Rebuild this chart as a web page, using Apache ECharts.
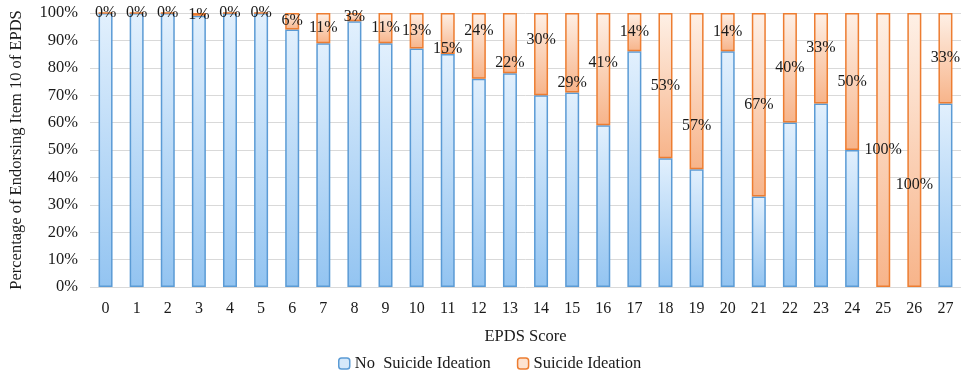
<!DOCTYPE html>
<html><head><meta charset="utf-8">
<script src="https://cdn.jsdelivr.net/npm/echarts@6/dist/echarts.min.js"></script>
<style>html,body{margin:0;padding:0;background:#fff}#c{width:966px;height:380px}</style>
</head><body><div id="c"></div>
<script>
var categories = ['0','1','2','3','4','5','6','7','8','9','10','11','12','13','14','15','16','17','18','19','20','21','22','23','24','25','26','27'];
var noIdeation = [100,100,100,99,100,100,94,89,97,89,87,85,76,78,70,71,59,86,47,43,86,33,60,67,50,0,0,67];
var ideation   = [0,0,0,1,0,0,6,11,3,11,13,15,24,22,30,29,41,14,53,57,14,67,40,33,50,100,100,33];
var yTicks = ['0%','10%','20%','30%','40%','50%','60%','70%','80%','90%','100%'];

// manual label nudges (vertical, px) as in the reference
var labelNudge = {11:15, 12:-15, 13:20, 14:-14, 15:30, 16:-6, 19:35, 23:-10, 26:35};

var FONT = '"Liberation Serif","Times New Roman",serif';
var TXT = '#1a1a1a';
var chart = echarts.init(document.getElementById('c'));

function grad(top, bottom){
  return new echarts.graphic.LinearGradient(0,0,0,1,[{offset:0,color:top},{offset:1,color:bottom}]);
}

var ideationData = ideation.map(function(v,i){
  var d = {value:v};
  if (labelNudge[i] !== undefined) d.label = {offset:[0,labelNudge[i]]};
  return d;
});
var noData = noIdeation.map(function(v){ return v === 0 ? '-' : v; });

chart.setOption({
  animation:false,
  textStyle:{fontFamily:FONT},
  grid:{left:89, right:5, top:13, bottom:93},
  legend:{
    bottom:3, left:333, itemWidth:11, itemHeight:11, itemGap:26,
    textStyle:{fontFamily:FONT, fontSize:16.5, color:TXT},
    data:[
      {name:'No  Suicide Ideation', itemStyle:{color:'#d5e8fa', borderColor:'#5b9bd5', borderWidth:1.5}},
      {name:'Suicide Ideation', itemStyle:{color:'#fde3d0', borderColor:'#ed7d31', borderWidth:1.5}}
    ]
  },
  xAxis:{
    type:'category', data:categories,
    name:'EPDS Score', nameLocation:'middle', nameGap:41,
    nameTextStyle:{fontFamily:FONT, fontSize:16.5, color:TXT},
    axisLine:{show:false}, axisTick:{show:false},
    axisLabel:{fontFamily:FONT, fontSize:16, color:TXT, margin:14}
  },
  yAxis:{
    type:'value', min:0, max:100, interval:10,
    name:'Percentage of Endorsing Item 10 of EPDS', nameLocation:'middle', nameGap:65,
    nameTextStyle:{fontFamily:FONT, fontSize:16.5, color:TXT},
    axisLine:{show:false}, axisTick:{show:false},
    splitLine:{lineStyle:{color:'#d9d9d9', width:1}},
    axisLabel:{fontFamily:FONT, fontSize:16.5, color:TXT, margin:12,
      formatter:function(v){ return yTicks[Math.round(v/10)]; }}
  },
  series:[
    {
      name:'No  Suicide Ideation', type:'bar', stack:'s', barWidth:'45%',
      data:noData,
      itemStyle:{color:grad('#e2f0fd','#93c4f1'), borderColor:'#5b9bd5', borderWidth:1.5}
    },
    {
      name:'Suicide Ideation', type:'bar', stack:'s', barWidth:'45%',
      data:ideationData,
      itemStyle:{color:grad('#fef0e6','#f7b48a'), borderColor:'#ed7d31', borderWidth:1.5},
      label:{show:true, position:'inside', formatter:'{c}%',
        fontFamily:FONT, fontSize:16, color:TXT}
    }
  ]
});
</script></body></html>
